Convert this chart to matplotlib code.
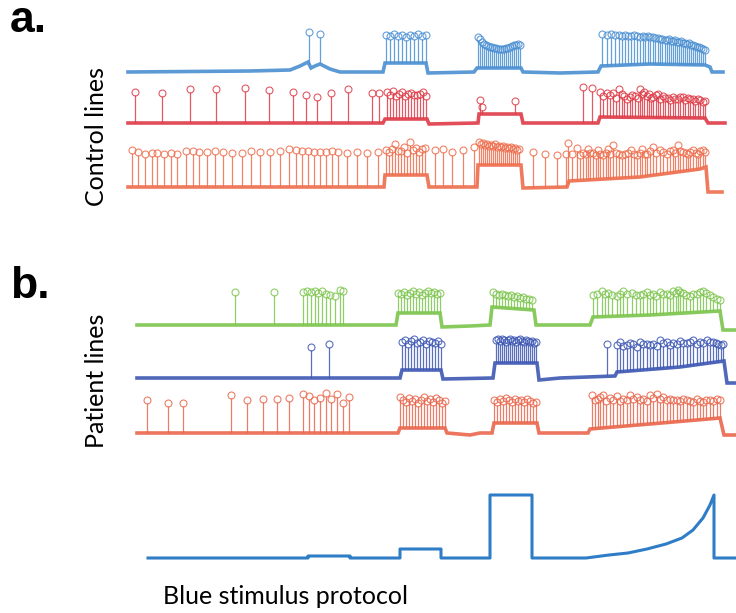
import matplotlib.pyplot as plt
import numpy as np

# ---- blue light stimulus protocol (time in a.u., intensity in a.u.)
stim_t = [148, 308, 308, 350, 350, 400, 400, 441, 441, 490, 490, 532, 532,
          586, 609, 628, 647, 666, 682, 693, 703, 710, 714, 714, 736]
stim_v = [0, 0, 2, 2, 0, 0, 9, 9, 0, 0, 63, 63, 0,
          0, 3, 5, 9, 14, 20, 28, 40, 53, 63, 0, 0]

# ---- control line 1 (blue)
c1_base_t = [128, 250, 290, 300, 308, 311, 315, 320, 330, 340, 383, 385, 426, 428,
             474, 477, 521, 523, 560, 598, 601, 650, 705, 710, 712, 723]
c1_base_v = [0, 1, 2, 6, 10, 4, 6, 8, 3, 0, 0, 9, 9, -1,
             0, 4, 4, 0, -1, 0, 6, 8, 7, 5, 0, 0]
c1_spk_t = [309, 320,
            386, 390, 394, 398, 402, 406, 410, 414, 418, 422, 426,
            478, 480, 482, 484, 486, 488, 490, 492, 494, 496, 498, 500, 502, 504,
            506, 508, 510, 512, 514, 516, 518, 520,
            602, 607, 611, 615, 619, 622, 625, 628, 631, 634, 637, 640, 643, 645,
            648, 650, 653, 655, 658, 660, 662, 665, 667, 669, 671, 673, 675, 677,
            679, 681, 683, 685, 687, 689, 691, 693, 695, 697, 699, 701, 703, 705]
c1_spk_v = [37, 35,
            34, 33, 35, 33, 34, 32, 34, 33, 35, 33, 34,
            32, 30, 27, 25, 24, 23, 22, 22, 21, 21, 20, 20, 20, 20,
            21, 21, 22, 23, 24, 24, 25, 24,
            35, 34, 35, 34, 34, 33, 34, 33, 33, 34, 33, 32, 33, 32,
            33, 32, 32, 31, 31, 30, 30, 29, 29, 30, 28, 28, 29, 27,
            27, 28, 26, 26, 25, 26, 24, 24, 23, 22, 22, 21, 20, 19]

# ---- control line 2 (red)
c2_base_t = [128, 383, 385, 427, 429, 478, 479, 521, 523, 598, 600, 705, 708, 725]
c2_base_v = [0, 0, 4, 4, -1, 0, 9, 9, 0, 0, 6, 5, 0, 0]
c2_spk_t = [135, 162, 190, 216, 245, 269, 293, 306, 317, 331, 348, 372, 379,
            387, 390, 393, 396, 399, 402, 405, 408, 411, 414, 417, 420, 423, 426,
            480, 482, 515, 583, 592,
            600, 603, 607, 610, 613, 616, 619, 622, 624, 627, 630, 632, 635, 638,
            640, 642, 644, 647, 649, 651, 653, 656, 658, 660, 663, 665, 668, 670,
            673, 675, 678, 680, 683, 685, 688, 690, 693, 695, 698, 700, 703, 705]
c2_spk_v = [28, 27, 31, 31, 32, 30, 28, 25, 23, 27, 31, 27, 27,
            28, 25, 29, 24, 26, 28, 24, 26, 27, 25, 25, 26, 28, 24,
            20, 13, 19, 33, 32,
            28, 24, 27, 25, 27, 22, 31, 26, 24, 21, 23, 25, 24, 22,
            31, 26, 28, 24, 26, 22, 23, 25, 26, 21, 24, 22, 22, 20,
            23, 21, 21, 23, 23, 20, 22, 21, 21, 19, 21, 20, 18, 19]

# ---- control line 3 (orange)
c3_base_t = [128, 384, 385, 427, 429, 477, 478, 521, 523, 567, 569, 640, 700, 706, 708, 722]
c3_base_v = [0, 0, 12, 12, 0, 0, 22, 22, -1, 0, 6, 10, 18, 20, -5, -5]
c3_spk_t = [132, 138, 145, 152, 157, 164, 171, 177, 186, 193, 199, 207, 215, 223,
            232, 242, 251, 260, 270, 280, 289, 296, 302, 308, 314, 320, 326, 332,
            338, 347, 357, 367, 378,
            386, 389, 392, 395, 398, 401, 404, 407, 410, 413, 416, 419, 422, 425,
            435, 443, 452, 463, 474,
            479, 481, 483, 485, 487, 489, 491, 493, 495, 497, 499, 501, 503, 505,
            507, 509, 511, 513, 515, 517, 519,
            533, 545, 557, 566,
            568, 572, 577, 580, 583, 586, 588, 590, 593, 596, 598, 600, 603, 606,
            608, 610, 613, 616, 619, 622, 625, 628, 631, 634, 637, 640, 642, 645,
            647, 650, 653, 656, 660, 663, 667, 670, 673, 675, 678, 680, 683, 686,
            688, 690, 693, 696, 698, 700, 703, 705]
c3_spk_v = [34, 32, 30, 31, 31, 30, 31, 30, 33, 33, 32, 32, 33, 32,
            31, 31, 33, 32, 32, 33, 35, 34, 33, 33, 32, 32, 32, 33,
            32, 31, 32, 31, 32,
            34, 32, 35, 40, 33, 33, 37, 31, 42, 34, 36, 32, 35, 36,
            34, 35, 32, 34, 37,
            42, 40, 41, 39, 40, 38, 39, 38, 40, 37, 38, 37, 38, 36,
            37, 36, 37, 35, 36, 34, 35,
            32, 30, 29, 30,
            41, 30, 36, 29, 31, 30, 35, 31, 31, 29, 34, 30, 29, 31,
            35, 30, 39, 31, 30, 29, 30, 31, 34, 30, 29, 31, 35, 30,
            30, 33, 37, 31, 34, 32, 30, 33, 34, 31, 39, 33, 32, 31,
            30, 32, 34, 31, 30, 33, 34, 32]

# ---- patient line 1 (green)
p1_base_t = [137, 396, 398, 440, 442, 470, 490, 492, 534, 536, 590, 593, 650, 720, 723, 736]
p1_base_v = [0, 0, 12, 12, -2, -1, 0, 18, 15, 0, 0, 8, 10, 14, -5, -5]
p1_spk_t = [235, 274,
            303, 307, 311, 315, 318, 322, 326, 330, 335, 340, 343,
            398, 401, 404, 407, 410, 413, 416, 419, 422, 425, 428, 431, 434, 437, 440,
            493, 496, 499, 502, 505, 508, 511, 514, 517, 520, 523, 526, 529, 532,
            593, 597, 602, 605, 608, 612, 617, 620, 623, 627, 632, 636, 640, 643,
            647, 650, 653, 656, 660, 663, 667, 670, 673, 676, 678, 680, 683, 686,
            690, 693, 697, 700, 703, 706, 710, 713, 717, 720]
p1_spk_v = [30, 30,
            30, 31, 30, 31, 29, 31, 28, 27, 26, 32, 31,
            29, 28, 30, 27, 29, 31, 28, 30, 27, 29, 31, 29, 30, 28, 29,
            30, 28, 27, 28, 27, 26, 27, 25, 26, 24, 25, 23, 23, 22,
            27, 28, 31, 28, 29, 27, 26, 28, 31, 28, 29, 27, 27, 28,
            30, 27, 28, 26, 30, 28, 28, 27, 31, 29, 32, 30, 29, 27,
            26, 28, 28, 30, 31, 29, 27, 25, 23, 22]

# ---- patient line 2 (dark blue)
p2_base_t = [137, 400, 402, 441, 443, 493, 495, 537, 539, 560, 615, 617, 680, 724, 727, 736]
p2_base_v = [0, 0, 8, 8, -1, 0, 15, 15, -2, 0, 2, 6, 11, 17, -5, -5]
p2_spk_t = [311, 329,
            402, 405, 408, 411, 414, 417, 420, 423, 426, 429, 432, 435, 438, 441,
            496, 498, 500, 502, 504, 506, 508, 510, 512, 514, 516, 518, 520, 522,
            524, 526, 528, 530, 532, 534, 536,
            607,
            617, 620, 623, 627, 630, 633, 637, 640, 643, 647, 650, 653, 657, 660,
            663, 667, 670, 673, 677, 680, 683, 687, 690, 693, 697, 700, 703, 707,
            710, 713, 716, 718, 721, 723]
p2_spk_v = [28, 31,
            33, 35, 31, 34, 36, 32, 33, 35, 31, 34, 33, 32, 34, 31,
            35, 36, 34, 36, 35, 33, 35, 36, 34, 35, 33, 35, 36, 34,
            33, 35, 34, 33, 34, 32, 33,
            31,
            30, 33, 29, 30, 32, 31, 28, 33, 31, 31, 30, 31, 29, 35,
            32, 33, 30, 32, 31, 34, 32, 32, 33, 35, 31, 33, 32, 35,
            33, 33, 32, 31, 30, 31]

# ---- patient line 3 (red-orange)
p3_base_t = [137, 398, 400, 445, 447, 470, 480, 492, 494, 537, 539, 588, 590, 650, 720, 724, 736]
p3_base_v = [0, 0, 5, 5, 0, -2, 0, 0, 10, 10, 0, 0, 4, 9, 15, -2, -2]
p3_spk_t = [147, 168, 183, 231, 247, 263, 277, 289, 303, 309, 314, 320, 326, 331,
            337, 343, 349,
            400, 403, 406, 409, 412, 415, 418, 421, 424, 427, 430, 433, 436, 439, 442, 445,
            494, 497, 500, 503, 506, 509, 512, 515, 518, 521, 524, 527, 530, 533, 536,
            592, 595, 598, 600, 603, 606, 610, 613, 617, 620, 623, 627, 630, 633,
            637, 640, 643, 647, 650, 653, 657, 660, 663, 667, 670, 673, 677, 680,
            683, 687, 690, 693, 697, 700, 703, 706, 710, 713, 717, 720]
p3_spk_v = [30, 27, 27, 35, 30, 31, 31, 32, 36, 34, 30, 32, 37, 31,
            36, 27, 33,
            33, 30, 28, 32, 29, 31, 27, 30, 33, 29, 31, 28, 32, 30, 27, 29,
            30, 28, 31, 29, 32, 30, 28, 31, 29, 30, 28, 31, 29, 27, 28,
            35, 30, 31, 33, 35, 29, 32, 30, 34, 29, 31, 30, 35, 31,
            33, 30, 31, 29, 35, 32, 36, 31, 33, 30, 31, 30, 30, 29,
            31, 30, 29, 28, 31, 29, 28, 30, 30, 29, 31, 30]

traces = [
    (72, c1_base_t, c1_base_v, c1_spk_t, c1_spk_v, "#4a8fd2"),
    (123, c2_base_t, c2_base_v, c2_spk_t, c2_spk_v, "#de3b47"),
    (187, c3_base_t, c3_base_v, c3_spk_t, c3_spk_v, "#ee6d4c"),
    (325, p1_base_t, p1_base_v, p1_spk_t, p1_spk_v, "#7cc54c"),
    (378, p2_base_t, p2_base_v, p2_spk_t, p2_spk_v, "#3d57b3"),
    (433, p3_base_t, p3_base_v, p3_spk_t, p3_spk_v, "#e9664c"),
]


def draw_trace(ax, row, base_t, base_v, spk_t, spk_v, color):
    bt = np.array(base_t, dtype=float)
    bv = np.array(base_v, dtype=float)
    st = np.array(spk_t, dtype=float)
    sv = np.array(spk_v, dtype=float)
    b_at = np.interp(st, bt, bv)
    ax.vlines(st, row - b_at, row - sv, color=color, lw=0.9, alpha=0.85)
    ax.plot(bt, row - bv, color=color, lw=2.6, alpha=0.9, solid_joinstyle="miter")
    ax.plot(st, row - sv - 3, "o", mfc="none", mec=color, ms=5, mew=0.8, alpha=0.85)


fig = plt.figure(figsize=(7.36, 6.13), dpi=100)
ax = fig.add_axes([0, 0, 1, 1])
ax.set_xlim(0, 736)
ax.set_ylim(613, 0)
ax.axis("off")

for tr in traces:
    draw_trace(ax, *tr)

# stimulus protocol
ax.plot(stim_t, 558 - np.array(stim_v), color="#2f7dc6", lw=2.2)

fig.text(10 / 736, 1 - 32 / 613, "a.", fontsize=32, fontweight="bold",
         family="Liberation Sans", va="baseline")
fig.text(10 / 736, 1 - 298 / 613, "b.", fontsize=32, fontweight="bold",
         family="Liberation Sans", va="baseline")
fig.text(97 / 736, 1 - 137 / 613, "Control lines", rotation=90, fontsize=18,
         family="Lato", ha="center", va="center")
fig.text(97 / 736, 1 - 381 / 613, "Patient lines", rotation=90, fontsize=18,
         family="Lato", ha="center", va="center")
fig.text(163 / 736, 1 - 597 / 613, "Blue stimulus protocol", fontsize=18,
         family="Lato", ha="left", va="center")

fig.savefig("out.png", dpi=100)
